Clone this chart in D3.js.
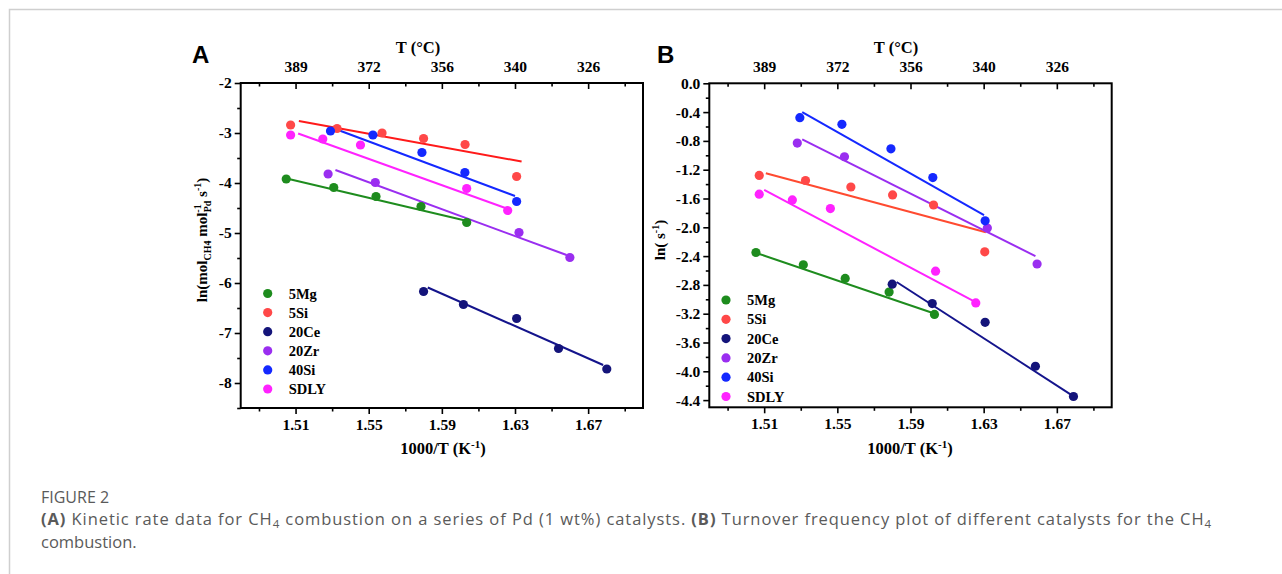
<!DOCTYPE html>
<html><head><meta charset="utf-8">
<script src="https://cdn.jsdelivr.net/npm/d3@7"></script>
<style>body{margin:0;background:#fff}svg{display:block}</style>
</head><body><svg id="c" width="1282" height="574"></svg>
<script>
// ---------- data ----------
const seriesNames = ["5Mg","5Si","20Ce","20Zr","40Si","SDLY"];
const seriesColors = ["#1e8c1e","#ff4848","#14147a","#9a2ef0","#1428ff","#ff22ff"];
const fitColorsA = ["#1e8c1e","#ff1a1a","#14148c","#9a2ef0","#1428ff","#ff22ff"];
const fitColorsB = ["#1e8c1e","#ff4a30","#14148c","#9a2ef0","#1428ff","#ff22ff"];

const bottomTicks = [1.51,1.55,1.59,1.63,1.67];
const bottomMinor = [1.49,1.53,1.57,1.61,1.65,1.69];
const topLabels = ["389","372","356","340","326"];
const yTicksA = [-2,-3,-4,-5,-6,-7,-8];
const yMinorA = [-2.5,-3.5,-4.5,-5.5,-6.5,-7.5,-8.5];
const yTicksB = [0,-0.4,-0.8,-1.2,-1.6,-2.0,-2.4,-2.8,-3.2,-3.6,-4.0,-4.4];
const yMinorB = [-0.2,-0.6,-1.0,-1.4,-1.8,-2.2,-2.6,-3.0,-3.4,-3.8,-4.2];

// Panel A points
const aX_5Mg = [1.5049,1.5309,1.5540,1.5786,1.6036];
const aY_5Mg = [-3.92,-4.09,-4.27,-4.47,-4.79];
const aX_5Si = [1.5073,1.5327,1.5573,1.5800,1.6027,1.6309];
const aY_5Si = [-2.84,-2.91,-3.00,-3.11,-3.23,-3.87];
const aX_20Ce = [1.5800,1.6018,1.6309,1.6538,1.6802];
const aY_20Ce = [-6.17,-6.43,-6.71,-7.31,-7.72];
const aX_20Zr = [1.5278,1.5536,1.6322,1.6600];
const aY_20Zr = [-3.82,-3.99,-4.99,-5.49];
const aX_40Si = [1.5291,1.5523,1.5791,1.6026,1.6309];
const aY_40Si = [-2.96,-3.04,-3.39,-3.79,-4.37];
const aX_SDLY = [1.5073,1.5249,1.5455,1.6036,1.6260];
const aY_SDLY = [-3.04,-3.12,-3.24,-4.11,-4.55];
// Panel A fitted lines (start/end)
const aFitX = [[1.5063,1.6027],[1.5118,1.6336],[1.5823,1.6782],[1.5318,1.6582],[1.5318,1.6300],[1.5114,1.6255]];
const aFitY = [[-3.92,-4.75],[-2.76,-3.57],[-6.09,-7.64],[-3.74,-5.44],[-2.92,-4.26],[-3.01,-4.51]];

// Panel B points
const bX_5Mg = [1.5055,1.5314,1.5543,1.5783,1.6031];
const bY_5Mg = [-2.35,-2.52,-2.71,-2.90,-3.21];
const bX_5Si = [1.5073,1.5326,1.5574,1.5802,1.6026,1.6306];
const bY_5Si = [-1.28,-1.35,-1.44,-1.55,-1.69,-2.34];
const bX_20Ce = [1.5800,1.6019,1.6308,1.6583,1.6791];
const bY_20Ce = [-2.79,-3.06,-3.32,-3.93,-4.35];
const bX_20Zr = [1.5281,1.5539,1.6320,1.6592];
const bY_20Zr = [-0.83,-1.02,-2.01,-2.51];
const bX_40Si = [1.5295,1.5525,1.5793,1.6022,1.6308];
const bY_40Si = [-0.478,-0.57,-0.91,-1.31,-1.91];
const bX_SDLY = [1.5073,1.5254,1.5462,1.6037,1.6257];
const bY_SDLY = [-1.54,-1.62,-1.74,-2.61,-3.05];
const bFitX = [[1.5073,1.6022],[1.5109,1.6312],[1.5824,1.6781],[1.5308,1.6583],[1.5308,1.6302],[1.5100,1.6248]];
const bFitY = [[-2.37,-3.19],[-1.25,-2.07],[-2.76,-4.33],[-0.78,-2.40],[-0.40,-1.83],[-1.48,-3.03]];

const ptsA = [[aX_5Mg,aY_5Mg],[aX_5Si,aY_5Si],[aX_20Ce,aY_20Ce],[aX_20Zr,aY_20Zr],[aX_40Si,aY_40Si],[aX_SDLY,aY_SDLY]];
const ptsB = [[bX_5Mg,bY_5Mg],[bX_5Si,bY_5Si],[bX_20Ce,bY_20Ce],[bX_20Zr,bY_20Zr],[bX_40Si,bY_40Si],[bX_SDLY,bY_SDLY]];

// ---------- drawing ----------
const svg = d3.select("#c");
const serif = "'Liberation Serif','Times New Roman',serif";
const hy = f => (d => f(d).replace("\u2212","-"));

// outer frame
svg.append("path").attr("d","M9.5,574 L9.5,9.5 L1282,9.5").attr("fill","none").attr("stroke","#cfcfcf").attr("stroke-width",1.5);

function panel(o){
  const x = d3.scaleLinear().domain([1.48,1.70]).range([o.left,o.right]);
  const y = d3.scaleLinear().domain(o.yDomain).range([o.bottom,o.top]);
  const g = svg.append("g");

  function styleAxis(sel){
    sel.selectAll("path").remove();
    sel.selectAll("line").attr("stroke","#000").attr("stroke-width",1.6);
    sel.selectAll("text").attr("font-family",serif).attr("font-weight","bold").attr("font-size",15.5).attr("fill","#000");
  }
  // bottom
  g.append("g").attr("transform",`translate(0,${o.bottom})`)
    .call(d3.axisBottom(x).tickValues(bottomTicks).tickFormat(d3.format(".2f")).tickSize(6).tickPadding(5)).call(styleAxis);
  g.append("g").attr("transform",`translate(0,${o.bottom})`)
    .call(d3.axisBottom(x).tickValues(bottomMinor).tickFormat("").tickSize(3.5)).call(styleAxis);
  // top (inward ticks, temperature labels)
  g.append("g").attr("transform",`translate(0,${o.top})`)
    .call(d3.axisTop(x).tickValues(bottomTicks).tickFormat((d,i)=>topLabels[i]).tickSize(-6).tickPadding(11)).call(styleAxis);
  g.append("g").attr("transform",`translate(0,${o.top})`)
    .call(d3.axisTop(x).tickValues(bottomMinor).tickFormat("").tickSize(-3.5)).call(styleAxis);
  // left
  g.append("g").attr("transform",`translate(${o.left},0)`)
    .call(d3.axisLeft(y).tickValues(o.yTicks).tickFormat(hy(o.yFmt)).tickSize(6).tickPadding(3)).call(styleAxis);
  g.append("g").attr("transform",`translate(${o.left},0)`)
    .call(d3.axisLeft(y).tickValues(o.yMinor).tickFormat("").tickSize(3.5)).call(styleAxis);
  // box
  g.append("rect").attr("x",o.left).attr("y",o.top).attr("width",o.right-o.left).attr("height",o.bottom-o.top)
    .attr("fill","none").attr("stroke","#000").attr("stroke-width",2);

  // fits
  o.fitX.forEach((fx,i)=>{
    g.append("line").attr("x1",x(fx[0])).attr("x2",x(fx[1])).attr("y1",y(o.fitY[i][0])).attr("y2",y(o.fitY[i][1]))
      .attr("stroke",o.fitColors[i]).attr("stroke-width",2);
  });
  // points
  o.pts.forEach((p,i)=>{
    g.selectAll(null).data(p[0].map((v,k)=>[v,p[1][k]])).enter().append("circle")
      .attr("cx",d=>x(d[0])).attr("cy",d=>y(d[1])).attr("r",4.6).attr("fill",seriesColors[i]);
  });
  // legend
  seriesNames.forEach((n,i)=>{
    const yy = o.legY + i*o.legDy;
    g.append("circle").attr("cx",o.legX).attr("cy",yy).attr("r",4.6).attr("fill",seriesColors[i]);
    g.append("text").attr("x",o.legX+21).attr("y",yy+5).text(n)
      .attr("font-family",serif).attr("font-weight","bold").attr("font-size",14.5);
  });
  // titles
  g.append("text").attr("x",o.tTitleX).attr("y",53).attr("text-anchor","middle")
    .attr("font-family",serif).attr("font-weight","bold").attr("font-size",16.5).text("T (°C)");
  const xt = g.append("text").attr("x",o.xTitleX).attr("y",454).attr("text-anchor","middle")
    .attr("font-family",serif).attr("font-weight","bold").attr("font-size",16.5);
  xt.append("tspan").text("1000/T (K");
  xt.append("tspan").text("-1").attr("font-size",11).attr("dy",-6);
  xt.append("tspan").text(")").attr("dy",6);
  // panel letter
  g.append("text").attr("x",o.letterX).attr("y",63).attr("font-family","'Liberation Sans',Arial,sans-serif")
    .attr("font-weight","bold").attr("font-size",24).text(o.letter);
  return g;
}

const gA = panel({left:240.7,right:643,top:83,bottom:408,yDomain:[-8.5,-2],yTicks:yTicksA,yMinor:yMinorA,yFmt:d3.format("d"),
  fitX:aFitX,fitY:aFitY,pts:ptsA,fitColors:fitColorsA,legX:267.7,legY:293.5,legDy:19.1,tTitleX:418,xTitleX:443,letterX:192,letter:"A"});
const gB = panel({left:709.3,right:1111.7,top:83.3,bottom:407.3,yDomain:[-4.5,0],yTicks:yTicksB,yMinor:yMinorB,yFmt:d3.format(".1f"),
  fitX:bFitX,fitY:bFitY,pts:ptsB,fitColors:fitColorsB,legX:726,legY:300,legDy:19.3,tTitleX:896,xTitleX:910,letterX:657,letter:"B"});

// y titles
const ytA = svg.append("text").attr("transform","translate(207,240) rotate(-90)").attr("text-anchor","middle")
  .attr("font-family",serif).attr("font-weight","bold").attr("font-size",15);
ytA.append("tspan").text("ln(mol");
ytA.append("tspan").text("CH4").attr("font-size",10).attr("dy",4);
ytA.append("tspan").text(" mol").attr("dy",-4);
ytA.append("tspan").text("-1").attr("font-size",10).attr("dy",-6);
ytA.append("tspan").text("Pd").attr("font-size",10).attr("dx",-8).attr("dy",10);
ytA.append("tspan").text(" s").attr("dy",-4);
ytA.append("tspan").text("-1").attr("font-size",10).attr("dy",-6);
ytA.append("tspan").text(")").attr("dy",6);

const ytB = svg.append("text").attr("transform","translate(665,240) rotate(-90)").attr("text-anchor","middle")
  .attr("font-family",serif).attr("font-weight","bold").attr("font-size",15);
ytB.append("tspan").text("ln( s");
ytB.append("tspan").text("-1").attr("font-size",10).attr("dy",-6);
ytB.append("tspan").text(")").attr("dy",6);

// caption
const capFont = "'Open Sans','Noto Sans',sans-serif";
const capCol = "#5a5a5a";
svg.append("text").attr("x",41).attr("y",503).attr("font-family",capFont).attr("font-size",16).attr("fill",capCol).text("FIGURE 2");
const c1 = svg.append("text").attr("x",41).attr("y",525).attr("font-family",capFont).attr("font-size",16.5).attr("fill",capCol);
c1.append("tspan").text("(A)").attr("font-weight","bold");
c1.append("tspan").text(" Kinetic rate data for CH");
c1.append("tspan").text("4").attr("font-size",11.5).attr("dy",3);
c1.append("tspan").text(" combustion on a series of Pd (1 wt%) catalysts. ").attr("dy",-3);
c1.append("tspan").text("(B)").attr("font-weight","bold");
c1.append("tspan").text(" Turnover frequency plot of different catalysts for the CH");
c1.append("tspan").text("4").attr("font-size",11.5).attr("dy",3);
(function(){
  const w = c1.node().getComputedTextLength();
  const n = c1.text().length;
  const extra = (1212 - 41 - w) / n;
  c1.attr("letter-spacing", extra);
})();
svg.append("text").attr("x",41).attr("y",548).attr("font-family",capFont).attr("font-size",16.5).attr("fill",capCol).text("combustion.");
</script></body></html>
